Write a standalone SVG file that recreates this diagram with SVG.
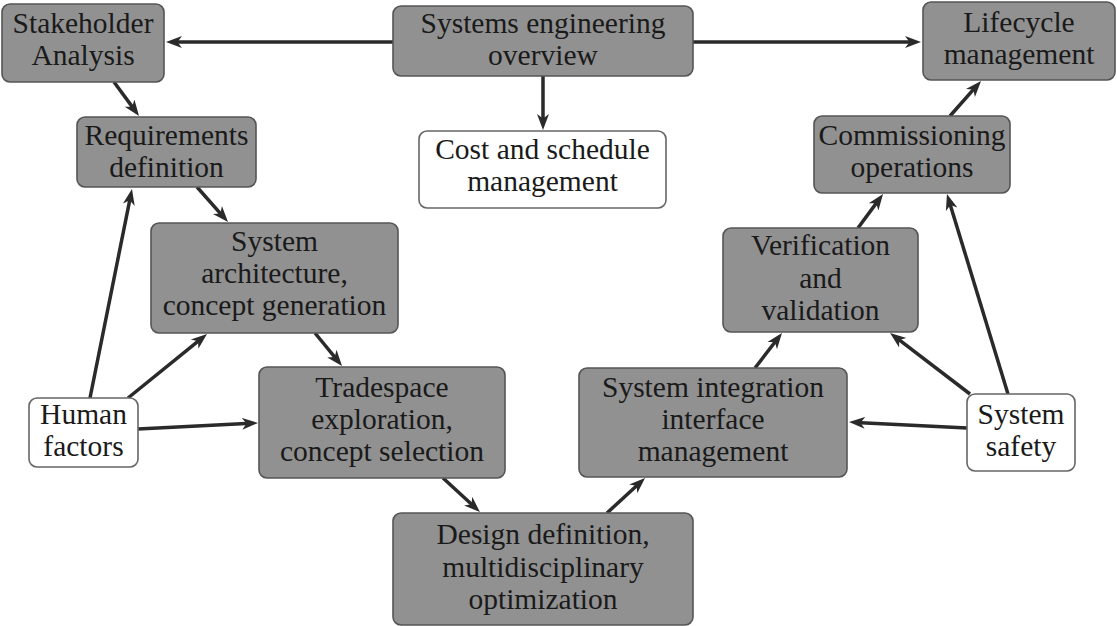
<svg xmlns="http://www.w3.org/2000/svg" width="1117" height="626" viewBox="0 0 1117 626">
<style>
.g{fill:#919191;stroke:#555;stroke-width:1.6}
.w{fill:#fff;stroke:#666;stroke-width:1.6}
text{font-family:"Liberation Serif","Times New Roman",serif;font-size:29.5px;fill:#1a1a1a;text-anchor:middle}
.c line{stroke:#2a2a2a;stroke-width:3.5;marker-end:url(#ah)}
</style>
<defs>
<marker id="ah" markerUnits="userSpaceOnUse" viewBox="-9 -7 17 14" markerWidth="17" markerHeight="14" refX="0" refY="0" orient="auto">
<path d="M7,0 L-9,-6 L-4.5,0 L-9,6 Z" fill="#2a2a2a"/>
</marker>
</defs>
<rect width="1117" height="626" fill="#fff"/>
<g class="c" id="connectors">
<line x1="393" y1="42" x2="173" y2="42"/>
<line x1="693" y1="42" x2="914" y2="42"/>
<line x1="543" y1="76" x2="543" y2="123"/>
<line x1="114" y1="82" x2="134.9" y2="110.4"/>
<line x1="197" y1="187" x2="223.4" y2="216.8"/>
<line x1="90" y1="398" x2="130.6" y2="195.9"/>
<line x1="128" y1="398" x2="201.6" y2="338.4"/>
<line x1="138" y1="429" x2="251" y2="423.35"/>
<line x1="315" y1="333" x2="337.6" y2="360.6"/>
<line x1="443" y1="478" x2="474.8" y2="507.3"/>
<line x1="607" y1="513" x2="639.9" y2="482.7"/>
<line x1="755" y1="368" x2="777.7" y2="338.5"/>
<line x1="858" y1="228" x2="878.9" y2="199.6"/>
<line x1="950" y1="116" x2="976.4" y2="86.2"/>
<line x1="967" y1="428" x2="856" y2="422.4"/>
<line x1="970" y1="394" x2="895.6" y2="337.2"/>
<line x1="1008" y1="394" x2="949" y2="200.7"/>
</g>
<g id="stakeholder"><rect class="g" x="2" y="4" width="162" height="78" rx="8"/><text x="83" y="33">Stakeholder</text><text x="83" y="65">Analysis</text></g>
<g id="overview"><rect class="g" x="393" y="6" width="300" height="70" rx="8"/><text x="543" y="33">Systems engineering</text><text x="543" y="65">overview</text></g>
<g id="lifecycle"><rect class="g" x="923" y="2" width="192" height="78" rx="8"/><text x="1019" y="32">Lifecycle</text><text x="1019" y="64">management</text></g>
<g id="requirements"><rect class="g" x="77" y="117" width="179" height="70" rx="8"/><text x="166.5" y="145">Requirements</text><text x="166.5" y="177">definition</text></g>
<g id="cost"><rect class="w" x="419" y="131" width="247" height="77" rx="8"/><text x="542.5" y="159">Cost and schedule</text><text x="542.5" y="191">management</text></g>
<g id="commissioning"><rect class="g" x="814" y="116" width="196" height="77" rx="8"/><text x="912" y="145">Commissioning</text><text x="912" y="177">operations</text></g>
<g id="architecture"><rect class="g" x="151" y="223" width="247" height="110" rx="8"/><text x="274.5" y="251">System</text><text x="274.5" y="283">architecture,</text><text x="274.5" y="315">concept generation</text></g>
<g id="verification"><rect class="g" x="723" y="228" width="195" height="104" rx="8"/><text x="820.5" y="255">Verification</text><text x="820.5" y="288">and</text><text x="820.5" y="320">validation</text></g>
<g id="tradespace"><rect class="g" x="259" y="367" width="246" height="111" rx="8"/><text x="382" y="397">Tradespace</text><text x="382" y="429">exploration,</text><text x="382" y="461">concept selection</text></g>
<g id="integration"><rect class="g" x="579" y="368" width="268" height="109" rx="8"/><text x="713" y="397">System integration</text><text x="713" y="429">interface</text><text x="713" y="461">management</text></g>
<g id="human"><rect class="w" x="29" y="398" width="109" height="69" rx="8"/><text x="83.5" y="424">Human</text><text x="83.5" y="456">factors</text></g>
<g id="safety"><rect class="w" x="967" y="394" width="108" height="77" rx="8"/><text x="1021" y="424">System</text><text x="1021" y="456">safety</text></g>
<g id="design"><rect class="g" x="393" y="513" width="300" height="112" rx="8"/><text x="543" y="544">Design definition,</text><text x="543" y="577">multidisciplinary</text><text x="543" y="609">optimization</text></g>
</svg>
